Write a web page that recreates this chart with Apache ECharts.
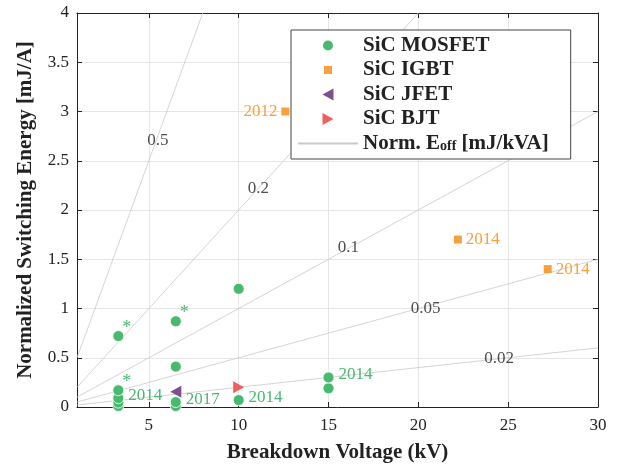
<!DOCTYPE html>
<html>
<head>
<meta charset="utf-8">
<script src="https://cdn.jsdelivr.net/npm/echarts@6/dist/echarts.min.js"></script>
<style>
  html, body { margin: 0; padding: 0; background: #fff; }
  #chart { width: 625px; height: 466px; }
</style>
</head>
<body>
<div id="chart"></div>
<script>
// SiC devices: breakdown voltage (kV) vs normalized switching energy (mJ/A)
const mosfetX = [3.3, 3.3, 3.3, 3.3, 3.3, 6.5, 6.5, 6.5, 6.5, 10, 10, 15, 15];
const mosfetY = [0.01, 0.045, 0.09, 0.17, 0.72, 0.01, 0.05, 0.41, 0.87, 0.07, 1.2, 0.19, 0.3];
const mosfetNote = ['', '', '2014', '*', '*', '', '2017', '', '*', '2014', '', '', '2014'];

const igbtX = [12.6, 22.2, 27.2];
const igbtY = [3.0, 1.7, 1.4];
const igbtNote = ['2012', '2014', '2014'];

const jfetX = [6.5];
const jfetY = [0.155];

const bjtX = [10];
const bjtY = [0.2];

// lines of constant normalized Eoff (mJ/kVA)
const slopes = [0.5, 0.2, 0.1, 0.05, 0.02];
const slopeLabelX = [5.5, 11.1, 16.1, 20.4, 24.5];
const slopeLabelY = [2.71, 2.22, 1.62, 1.0, 0.49];

const xTicks = [5, 10, 15, 20, 25, 30];
const xMin = 1, xMax = 30;

const green = '#48b96f';
const orange = '#f7a13c';
const purple = '#7e4f8e';
const red = '#f0605a';
const serif = 'Liberation Serif';
const lineName = 'Norm. E_off';

const leftTri = 'path://M0,6L11,0L11,12Z';
const rightTri = 'path://M11,6L0,0L0,12Z';
const smallSquare = 'path://M0,0M12,12M2,2L10,2L10,10L2,10Z';

const chart = echarts.init(document.getElementById('chart'));

function notedPoints(xs, ys, notes, color) {
    return xs.map((x, i) => {
        const note = notes[i];
        const item = { value: [x, ys[i]] };
        if (note === '*') {
            item.label = { show: true, formatter: '*', position: 'right', distance: 0, offset: [-2, -8], color: color, fontSize: 18 };
        } else if (note) {
            item.label = { show: true, formatter: note, position: 'right', distance: 4, offset: [0, -3], color: color };
        }
        return item;
    });
}

const igbtPoints = notedPoints(igbtX, igbtY, igbtNote, orange);
igbtPoints[0].label.position = 'left';
igbtPoints[0].label.offset = [0, 0];
igbtPoints[1].label.offset = [0, 0];
igbtPoints[2].label.offset = [0, 0];

const slopeSeries = slopes.map(k => ({
    name: lineName,
    type: 'line',
    data: [[xMin, k * xMin], [xMax, k * xMax]],
    symbol: 'none',
    clip: true,
    silent: true,
    z: 1,
    lineStyle: { color: '#c9c9c9', width: 0.8 },
    itemStyle: { color: '#c9c9c9' }
}));

const option = {
    animation: false,
    textStyle: { fontFamily: serif },
    grid: { left: 77, right: 27, top: 13, bottom: 59, outerBoundsMode: 'none' },
    legend: {
        orient: 'vertical',
        left: 291,
        top: 30,
        padding: [5, 22, 5, 6],
        itemWidth: 60,
        itemHeight: 12,
        itemGap: 3.5,
        backgroundColor: '#fff',
        borderColor: '#444',
        borderWidth: 1,
        borderRadius: 0,
        data: [
            { name: 'SiC MOSFET', icon: 'circle' },
            { name: 'SiC IGBT', icon: smallSquare },
            { name: 'SiC JFET', icon: leftTri },
            { name: 'SiC BJT', icon: rightTri },
            { name: lineName, itemStyle: { opacity: 0 } }
        ],
        formatter: function (name) {
            if (name === lineName) return '{n|Norm. E}{s|off}{n| [mJ/kVA]}';
            return name;
        },
        textStyle: {
            fontFamily: serif,
            fontWeight: 'bold',
            fontSize: 21,
            lineHeight: 20,
            color: '#222',
            rich: {
                n: { fontFamily: serif, fontWeight: 'bold', fontSize: 21, lineHeight: 20, color: '#222' },
                s: { fontFamily: serif, fontWeight: 'bold', fontSize: 14, lineHeight: 16, padding: [6, 0, 0, 0], color: '#222' }
            }
        }
    },
    xAxis: [
        {
            type: 'value',
            min: xMin,
            max: xMax,
            name: 'Breakdown Voltage (kV)',
            nameLocation: 'middle',
            nameGap: 35,
            nameTextStyle: { fontFamily: serif, fontWeight: 'bold', fontSize: 21, color: '#222' },
            axisLine: { show: true, lineStyle: { color: '#222', width: 1 } },
            axisTick: { show: true, inside: true, length: 5, customValues: xTicks, lineStyle: { color: '#222' } },
            axisLabel: { customValues: xTicks, fontSize: 17, color: '#222', margin: 10, fontFamily: serif },
            splitLine: { show: true, lineStyle: { color: '#e6e6e6', width: 1 } }
        },
        {
            type: 'value',
            position: 'top',
            min: xMin,
            max: xMax,
            axisLine: { show: true, onZero: false, lineStyle: { color: '#222', width: 1 } },
            axisTick: { show: true, inside: true, length: 5, customValues: xTicks, lineStyle: { color: '#222' } },
            axisLabel: { show: false },
            splitLine: { show: false }
        }
    ],
    yAxis: [
        {
            type: 'value',
            min: 0,
            max: 4,
            interval: 0.5,
            name: 'Normalized Switching Energy [mJ/A]',
            nameLocation: 'middle',
            nameGap: 41,
            nameTextStyle: { fontFamily: serif, fontWeight: 'bold', fontSize: 21, color: '#222' },
            axisLine: { show: true, onZero: false, lineStyle: { color: '#222', width: 1 } },
            axisTick: { show: true, inside: true, length: 5, lineStyle: { color: '#222' } },
            axisLabel: { fontSize: 17, color: '#222', margin: 8, fontFamily: serif },
            splitLine: { show: true, lineStyle: { color: '#e6e6e6', width: 1 } }
        },
        {
            type: 'value',
            position: 'right',
            min: 0,
            max: 4,
            interval: 0.5,
            axisLine: { show: true, onZero: false, lineStyle: { color: '#222', width: 1 } },
            axisTick: { show: true, inside: true, length: 5, lineStyle: { color: '#222' } },
            axisLabel: { show: false },
            splitLine: { show: false }
        }
    ],
    series: [
        ...slopeSeries,
        {
            name: 'slope labels',
            type: 'scatter',
            symbolSize: 0,
            silent: true,
            z: 2,
            data: slopes.map((k, i) => ({ value: [slopeLabelX[i], slopeLabelY[i]], label: { formatter: String(k) } })),
            label: { show: true, position: 'inside', fontSize: 17, color: '#222', fontFamily: serif }
        },
        {
            name: 'SiC MOSFET',
            type: 'scatter',
            symbol: 'circle',
            symbolSize: 11,
            z: 3,
            itemStyle: { color: green, borderColor: '#fff', borderWidth: 0.8, opacity: 1 },
            label: { fontSize: 17, fontFamily: serif },
            data: notedPoints(mosfetX, mosfetY, mosfetNote, green)
        },
        {
            name: 'SiC IGBT',
            type: 'scatter',
            symbol: 'rect',
            symbolSize: 8,
            z: 3,
            itemStyle: { color: orange, opacity: 1 },
            label: { fontSize: 17, fontFamily: serif },
            data: igbtPoints
        },
        {
            name: 'SiC JFET',
            type: 'scatter',
            symbol: leftTri,
            symbolSize: [11, 12],
            z: 3,
            itemStyle: { color: purple, opacity: 1 },
            data: jfetX.map((x, i) => [x, jfetY[i]])
        },
        {
            name: 'SiC BJT',
            type: 'scatter',
            symbol: rightTri,
            symbolSize: [11, 12],
            z: 3,
            itemStyle: { color: red, opacity: 1 },
            data: bjtX.map((x, i) => [x, bjtY[i]])
        }
    ]
};

chart.setOption(option);

window.addEventListener('resize', _ => {
    chart.resize();
});
</script>
</body>
</html>
